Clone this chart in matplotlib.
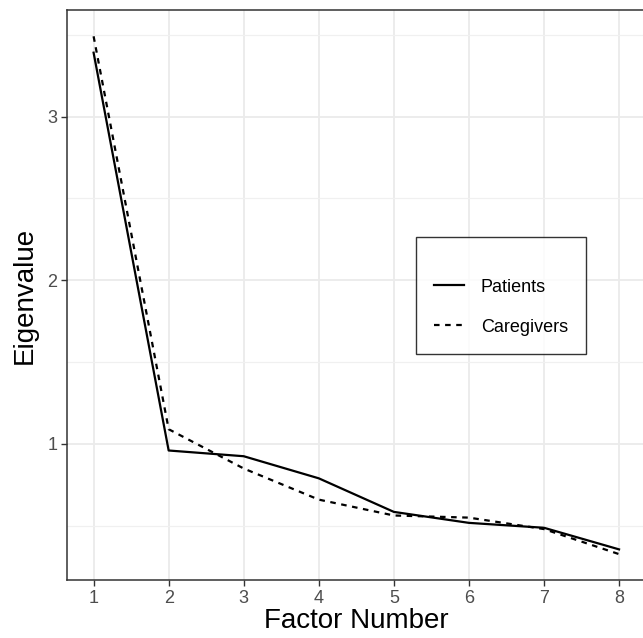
import matplotlib
matplotlib.use("Agg")
import matplotlib.pyplot as plt

plt.rcParams['font.family'] = ['Liberation Sans', 'DejaVu Sans']

factor = [1, 2, 3, 4, 5, 6, 7, 8]
patients = [3.39, 0.96, 0.925, 0.79, 0.585, 0.518, 0.488, 0.356]
caregivers = [3.49, 1.09, 0.85, 0.66, 0.563, 0.55, 0.48, 0.327]

fig = plt.figure(figsize=(6.43, 6.38), dpi=100)
ax = fig.add_axes([0.1047, 0.0904, 0.8989, 0.8935])

ax.plot(factor, patients, color='black', lw=1.6, ls='-', label='Patients', zorder=3)
ax.plot(factor, caregivers, color='black', lw=1.6, ls=(0, (2.5, 2.5)), label='Caregivers', zorder=3)

ax.set_xlim(0.65, 8.35)
ax.set_ylim(0.167, 3.649)
ax.set_xticks(factor)
ax.set_yticks([1, 2, 3])
ax.set_yticks([0.5, 1.5, 2.5, 3.5], minor=True)
ax.grid(which='major', color='#EBEBEB', lw=1.3)
ax.grid(which='minor', axis='y', color='#F0F0F0', lw=0.9)
ax.set_axisbelow(True)
ax.tick_params(which='minor', length=0)
ax.tick_params(which='major', length=4, width=1, color='#333333',
               labelcolor='#4D4D4D', labelsize=13, pad=3)
for s in ax.spines.values():
    s.set_color('#333333')
    s.set_linewidth(1.1)

ax.set_xlabel('Factor Number', fontsize=20, labelpad=1)
ax.set_ylabel('Eigenvalue', fontsize=20, labelpad=7)

leg = ax.legend(loc='center', bbox_to_anchor=(0.750, 0.50), title=' ',
                fontsize=13, title_fontsize=1, frameon=True, fancybox=False,
                edgecolor='black', handlelength=1.7, handletextpad=0.9,
                labelspacing=1.27, borderpad=1.0)
leg.get_frame().set_linewidth(1.0)

fig.savefig('out.png', dpi=100)
